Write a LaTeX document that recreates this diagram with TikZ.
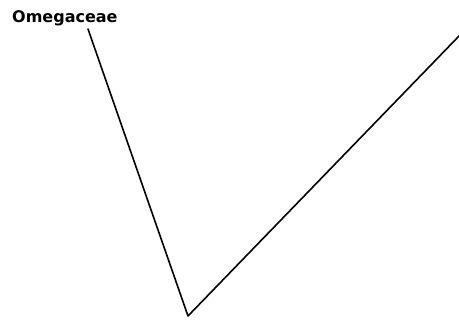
\documentclass[tikz,border=0pt]{standalone}
\usepackage{fontspec}
\setmainfont{DejaVu Sans}
\begin{document}
\begin{tikzpicture}[x=1pt,y=-1pt,
  branch/.style={line width=1.6pt,line join=round,line cap=round},
  label/.style={font=\bfseries\fontsize{16}{18}\selectfont,anchor=base west,inner sep=0pt}]
\useasboundingbox (0,0) rectangle (459,322);
\node[label] (omega) at (12,22.5) {Omegaceae};
\coordinate (top) at (88,29);
\coordinate (root) at (188,316);
\coordinate (right) at (460,35);
\draw[branch] (top) -- (root) -- (right);
\end{tikzpicture}
\end{document}
